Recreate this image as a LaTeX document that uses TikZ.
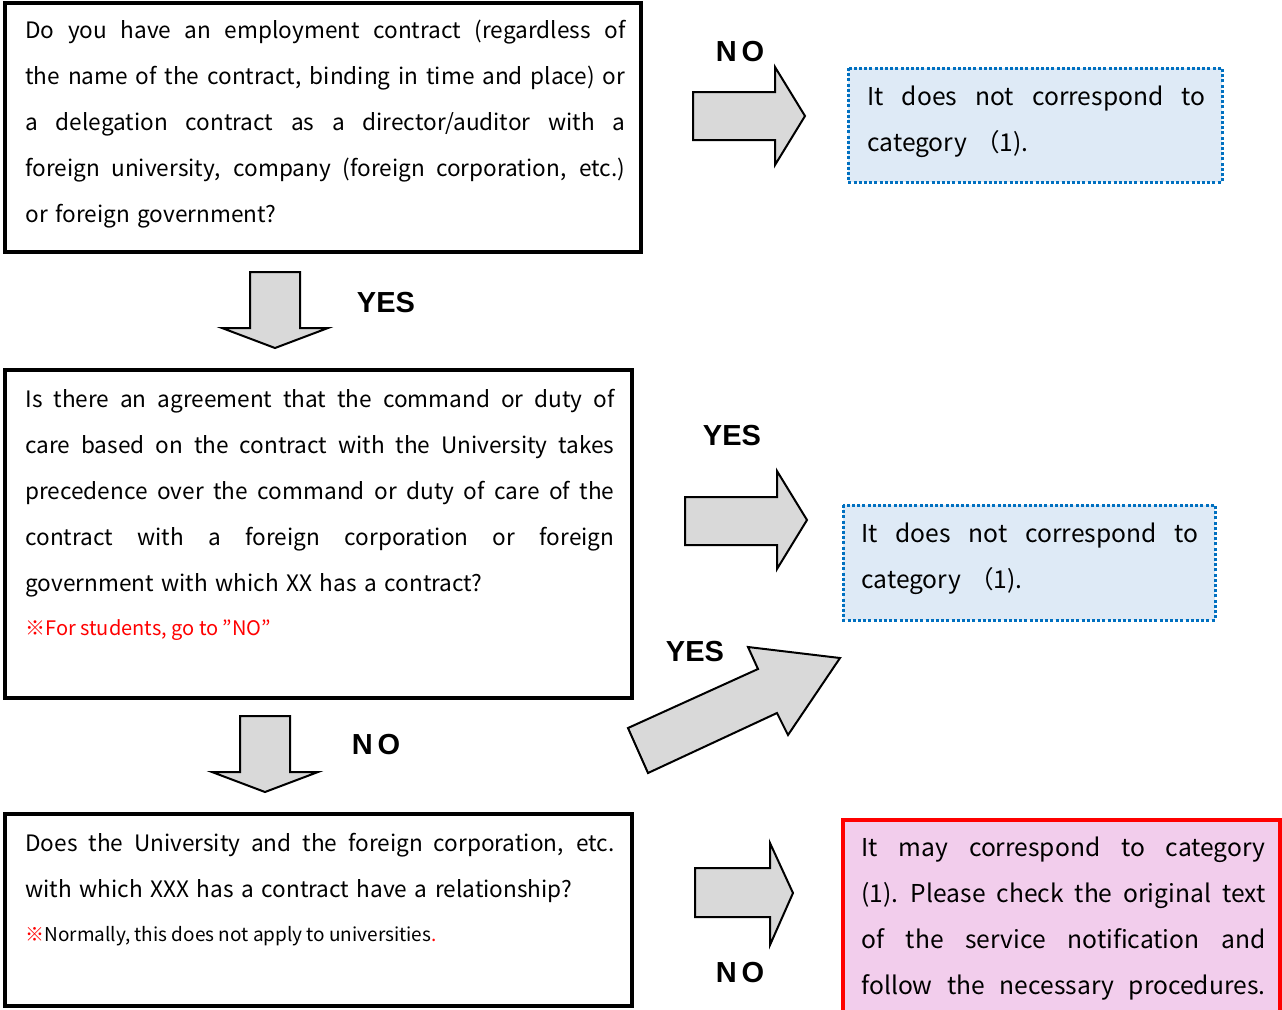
\documentclass[tikz,border=0pt]{standalone}
\usepackage{fontspec}
\setmainfont{Noto Sans CJK JP}
\newfontfamily\labfont{Liberation Sans}
\usetikzlibrary{positioning}
\definecolor{arrgray}{HTML}{D9D9D9}
\definecolor{dotblue}{HTML}{0070C0}
\definecolor{paleblue}{HTML}{DEEAF6}
\definecolor{palepink}{HTML}{F2CDEC}
\newcommand{\jl}[1]{\makebox[\linewidth][s]{\spaceskip=\fontdimen2\font plus 1fil\relax #1}}
\tikzset{
  qframe/.style={draw=black,line width=1.7pt},
  nobox/.style={draw=dotblue,fill=paleblue,line width=1.5pt,dash pattern=on 1.5pt off 1.1pt},
  maybebox/.style={draw=red,fill=palepink,line width=1.6pt},
  blockarr/.style={draw=black,fill=arrgray,line width=1pt,line join=miter},
  qtext/.style={anchor=base west,inner sep=0pt,align=left,font=\fontsize{11.3}{23}\selectfont},
  atext/.style={qtext,font=\fontsize{12.3}{23}\selectfont},
  notetext/.style={anchor=base west,inner sep=0pt,font=\fontsize{9.5}{11}\selectfont},
  anslabel/.style={inner sep=0pt,font=\labfont\bfseries\fontsize{14.5}{16}\selectfont}
}
\begin{document}
\begin{tikzpicture}[x=0.5pt,y=-0.5pt]
  \useasboundingbox (0,0) rectangle (1282,1009);
  \clip (0,0) rectangle (1282,1009);
  % frames
  \draw[qframe] (5,3) rectangle (641,252);
  \draw[qframe] (5,370) rectangle (632,698);
  \draw[qframe] (5,814) rectangle (632,1006);
  \draw[nobox] (848,68) rectangle (1222,182);
  \draw[nobox] (843,505) rectangle (1215,620);
  \draw[maybebox] (843,820) rectangle (1280,1040);
  % questions
  \node[qtext,text width=300pt] (q1) at (25,38) {%
    \jl{Do you have an employment contract (regardless of}\\
    \jl{the name of the contract, binding in time and place) or}\\
    \jl{a delegation contract as a director/auditor with a}\\
    \jl{foreign university, company (foreign corporation, etc.)}\\
    or foreign government?};
  \node[qtext,text width=294.5pt] (q2) at (25,407) {%
    \jl{Is there an agreement that the command or duty of}\\
    \jl{care based on the contract with the University takes}\\
    \jl{precedence over the command or duty of care of the}\\
    \jl{contract with a foreign corporation or foreign}\\
    government with which XX has a contract?};
  \node[notetext,text=red,font=\fontsize{10}{11}\selectfont] (q2note) at (25,635) {※For students, go to ”NO”};
  \node[qtext,text width=294.5pt] (q3) at (25,851) {%
    \jl{Does the University and the foreign corporation, etc.}\\
    with which XXX has a contract have a relationship?};
  \node[notetext] (q3note) at (25,941) {\textcolor{red}{※}Normally, this does not apply to universities\textcolor{red}{.}};
  % answers
  \node[atext,text width=169pt] (a1) at (867,105) {%
    \jl{It does not correspond to}\\
    category （1).};
  \node[atext,text width=168.5pt] (a2) at (861,542) {%
    \jl{It does not correspond to}\\
    category （1).};
  \node[atext,text width=202pt] (a3) at (861,856) {%
    \jl{It may correspond to category}\\
    \jl{(1). Please check the original text}\\
    \jl{of the service notification and}\\
    \jl{follow the necessary procedures.}};
  % block arrows
  \draw[blockarr] (693,92) -- (775,92) -- (775,67) -- (805,116) -- (775,165) -- (775,140) -- (693,140) -- cycle;
  \draw[blockarr] (250,272) -- (300,272) -- (300,328) -- (328,328) -- (275,348) -- (222,328) -- (250,328) -- cycle;
  \draw[blockarr] (685,497) -- (777,497) -- (777,471) -- (807,520) -- (777,569) -- (777,545) -- (685,545) -- cycle;
  \draw[blockarr] (628,728) -- (758,669) -- (748,647) -- (840,658) -- (788,735) -- (777,713) -- (648,773) -- cycle;
  \draw[blockarr] (240,716) -- (290,716) -- (290,772) -- (318,772) -- (265,792) -- (212,772) -- (240,772) -- cycle;
  \draw[blockarr] (695,868) -- (770,868) -- (770,843) -- (793,893) -- (770,945) -- (770,917) -- (695,917) -- cycle;
  % labels
  \node[anslabel] (no1) at (740,52) {N\,O};
  \node[anslabel] (yes1) at (386,303) {YES};
  \node[anslabel] (yes2) at (732,436) {YES};
  \node[anslabel] (yes3) at (695,652) {YES};
  \node[anslabel] (no2) at (376,745) {N\,O};
  \node[anslabel] (no3) at (740,973) {N\,O};
\end{tikzpicture}
\end{document}
